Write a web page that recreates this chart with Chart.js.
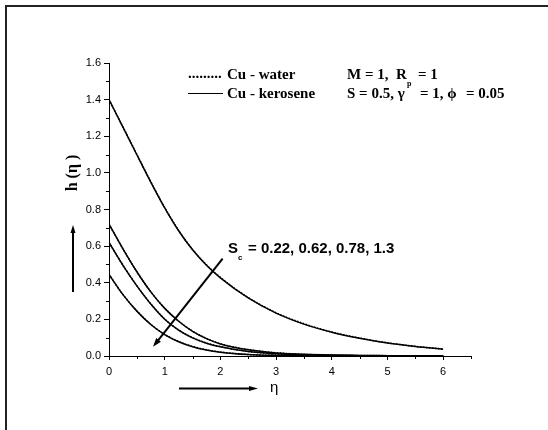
<!DOCTYPE html>
<html>
<head>
<meta charset="utf-8">
<script src="https://cdn.jsdelivr.net/npm/chart.js@4.4.1/dist/chart.umd.min.js"></script>
<style>
  html, body { margin: 0; padding: 0; background: #fff; }
  #wrap { width: 548px; height: 430px; }
</style>
</head>
<body>
<div id="wrap"><canvas id="chart" width="548" height="430"></canvas></div>
<script>
const eta = [0, 0.25, 0.5, 0.75, 1, 1.25, 1.5, 1.75, 2, 2.5, 3, 3.5, 4, 4.5, 5, 5.5, 6];

// Cu - kerosene (solid), one array per Sc curve
const keroTop = [1.40, 1.25, 1.099, 0.95, 0.809, 0.684, 0.58, 0.496, 0.427, 0.317, 0.234, 0.174, 0.13, 0.097, 0.071, 0.052, 0.037];
const keroA = [0.72, 0.585, 0.46, 0.35, 0.26, 0.19, 0.135, 0.095, 0.066, 0.034, 0.017, 0.009, 0.005, 0.003, 0.002, 0.001, 0.001];
const keroB = [0.62, 0.495, 0.383, 0.284, 0.201, 0.141, 0.099, 0.07, 0.05, 0.024, 0.012, 0.006, 0.003, 0.002, 0.001, 0.001, 0];
const keroC = [0.445, 0.335, 0.245, 0.172, 0.117, 0.078, 0.051, 0.033, 0.021, 0.008, 0.003, 0.001, 0.001, 0, 0, 0, 0];

// Cu - water (dotted), nearly on top of the kerosene curves
const waterTop = [1.40, 1.251, 1.101, 0.952, 0.811, 0.686, 0.582, 0.498, 0.429, 0.319, 0.236, 0.176, 0.131, 0.098, 0.072, 0.053, 0.038];
const waterA = [0.72, 0.586, 0.461, 0.351, 0.261, 0.191, 0.136, 0.096, 0.067, 0.035, 0.018, 0.009, 0.005, 0.003, 0.002, 0.001, 0.001];
const waterB = [0.62, 0.496, 0.384, 0.285, 0.202, 0.142, 0.1, 0.071, 0.051, 0.025, 0.012, 0.006, 0.003, 0.002, 0.001, 0.001, 0];
const waterC = [0.445, 0.336, 0.246, 0.173, 0.118, 0.079, 0.052, 0.034, 0.022, 0.008, 0.003, 0.001, 0.001, 0, 0, 0, 0];

const scLabel = "= 0.22, 0.62, 0.78, 1.3";
// arrow across the curves, in data units [eta, h]
const scArrowFrom = [2.04, 0.532];
const scArrowTo = [0.79, 0.05];

const toPoints = vals => eta.map((x, i) => ({ x: x, y: vals[i] }));

const solid = vals => ({
  data: toPoints(vals),
  borderColor: "#000",
  borderWidth: 1.5,
  pointRadius: 0,
  cubicInterpolationMode: "monotone",
  fill: false,
});
const dotted = vals => ({
  data: toPoints(vals),
  borderColor: "#000",
  borderWidth: 1.5,
  borderDash: [1.5, 1.5],
  pointRadius: 0,
  cubicInterpolationMode: "monotone",
  fill: false,
});

function arrow(ctx, x1, y1, x2, y2, w, head, hw) {
  const a = Math.atan2(y2 - y1, x2 - x1);
  ctx.save();
  ctx.strokeStyle = "#000";
  ctx.fillStyle = "#000";
  ctx.lineWidth = w;
  ctx.beginPath();
  ctx.moveTo(x1, y1);
  ctx.lineTo(x2 - Math.cos(a) * head * 0.6, y2 - Math.sin(a) * head * 0.6);
  ctx.stroke();
  ctx.beginPath();
  ctx.moveTo(x2, y2);
  ctx.lineTo(x2 - Math.cos(a) * head + Math.sin(a) * hw, y2 - Math.sin(a) * head - Math.cos(a) * hw);
  ctx.lineTo(x2 - Math.cos(a) * head - Math.sin(a) * hw, y2 - Math.sin(a) * head + Math.cos(a) * hw);
  ctx.closePath();
  ctx.fill();
  ctx.restore();
}

const decor = {
  id: "decor",
  afterDraw(chart) {
    const ctx = chart.ctx;
    const xs = chart.scales.x, ys = chart.scales.y;
    const area = chart.chartArea;
    ctx.save();

    // frame (top and left edges)
    ctx.fillStyle = "#222";
    ctx.fillRect(5, 5, 543, 2);
    ctx.fillRect(5, 5, 2, 425);

    // minor ticks
    ctx.strokeStyle = "#000";
    ctx.lineWidth = 1;
    ctx.beginPath();
    for (let v = 0.1; v < 1.6; v += 0.2) {
      const y = Math.round(ys.getPixelForValue(v)) + 0.5;
      ctx.moveTo(area.left, y);
      ctx.lineTo(area.left - 3, y);
    }
    for (let v = 0.5; v <= 6.5; v += 1) {
      const x = Math.round(xs.getPixelForValue(v)) + 0.5;
      ctx.moveTo(x, area.bottom);
      ctx.lineTo(x, area.bottom + 3);
    }
    ctx.stroke();

    // legend
    ctx.fillStyle = "#000";
    ctx.textBaseline = "middle";
    ctx.font = "bold 15px 'Liberation Serif', 'Times New Roman', serif";
    ctx.fillText(".........", 188, 74);
    ctx.lineWidth = 1;
    ctx.beginPath();
    ctx.moveTo(188, 93.5); ctx.lineTo(223, 93.5);
    ctx.stroke();
    ctx.fillText("Cu - water", 227, 75);
    ctx.fillText("Cu - kerosene", 227, 94);

    // parameters
    ctx.fillText("M = 1,  R", 347, 75);
    ctx.fillText("= 1", 418, 75);
    ctx.fillText("S = 0.5, \u03b3", 347, 94);
    ctx.fillText("= 1, \u03d5", 420, 94);
    ctx.fillText("= 0.05", 466, 94);
    ctx.font = "bold 8px 'Liberation Serif', serif";
    ctx.fillText("p", 407, 84);

    // y title
    ctx.save();
    ctx.translate(73, 173);
    ctx.rotate(-Math.PI / 2);
    ctx.textAlign = "center";
    ctx.font = "bold 16px 'Liberation Serif', 'Times New Roman', serif";
    ctx.fillText("h (\u03b7 )", 0, 0);
    ctx.restore();
    arrow(ctx, 73, 292, 73, 225, 2, 8, 2.5);

    // x title
    ctx.font = "15px 'Liberation Sans', Arial, sans-serif";
    ctx.fillText("\u03b7", 270, 388);
    arrow(ctx, 179, 388.5, 258, 388.5, 2, 9, 2.5);

    // Sc label and arrow
    ctx.font = "bold 15px 'Liberation Sans', Arial, sans-serif";
    ctx.fillText("S", 228, 249);
    ctx.fillText(scLabel, 248, 249);
    ctx.font = "bold 8px 'Liberation Sans', Arial, sans-serif";
    ctx.fillText("c", 238, 258);
    arrow(ctx,
      xs.getPixelForValue(scArrowFrom[0]), ys.getPixelForValue(scArrowFrom[1]),
      xs.getPixelForValue(scArrowTo[0]), ys.getPixelForValue(scArrowTo[1]),
      2, 9, 3);

    ctx.restore();
  },
};

const tickFont = { family: "'Liberation Sans', Arial, sans-serif", size: 11 };

new Chart(document.getElementById("chart"), {
  type: "line",
  data: {
    datasets: [
      solid(keroTop), solid(keroA), solid(keroB), solid(keroC),
      dotted(waterTop), dotted(waterA), dotted(waterB), dotted(waterC),
    ],
  },
  options: {
    responsive: false,
    animation: false,
    layout: { padding: { left: 0, top: 63, right: 77, bottom: 0 } },
    plugins: { legend: { display: false }, tooltip: { enabled: false } },
    scales: {
      x: {
        type: "linear",
        min: 0,
        max: 6.5,
        afterFit: s => { s.height = 74; },
        border: { color: "#000", width: 1 },
        grid: { drawOnChartArea: false, color: "#000", tickLength: 4 },
        ticks: {
          stepSize: 1,
          includeBounds: false,
          color: "#000",
          font: tickFont,
          padding: 5,
          maxRotation: 0,
        },
      },
      y: {
        min: 0,
        max: 1.6,
        afterFit: s => { s.width = 109; },
        border: { color: "#000", width: 1 },
        grid: { drawOnChartArea: false, color: "#000", tickLength: 5 },
        ticks: {
          stepSize: 0.2,
          color: "#000",
          font: tickFont,
          padding: 3,
          callback: v => v.toFixed(1),
        },
      },
    },
  },
  plugins: [decor],
});
</script>
</body>
</html>
